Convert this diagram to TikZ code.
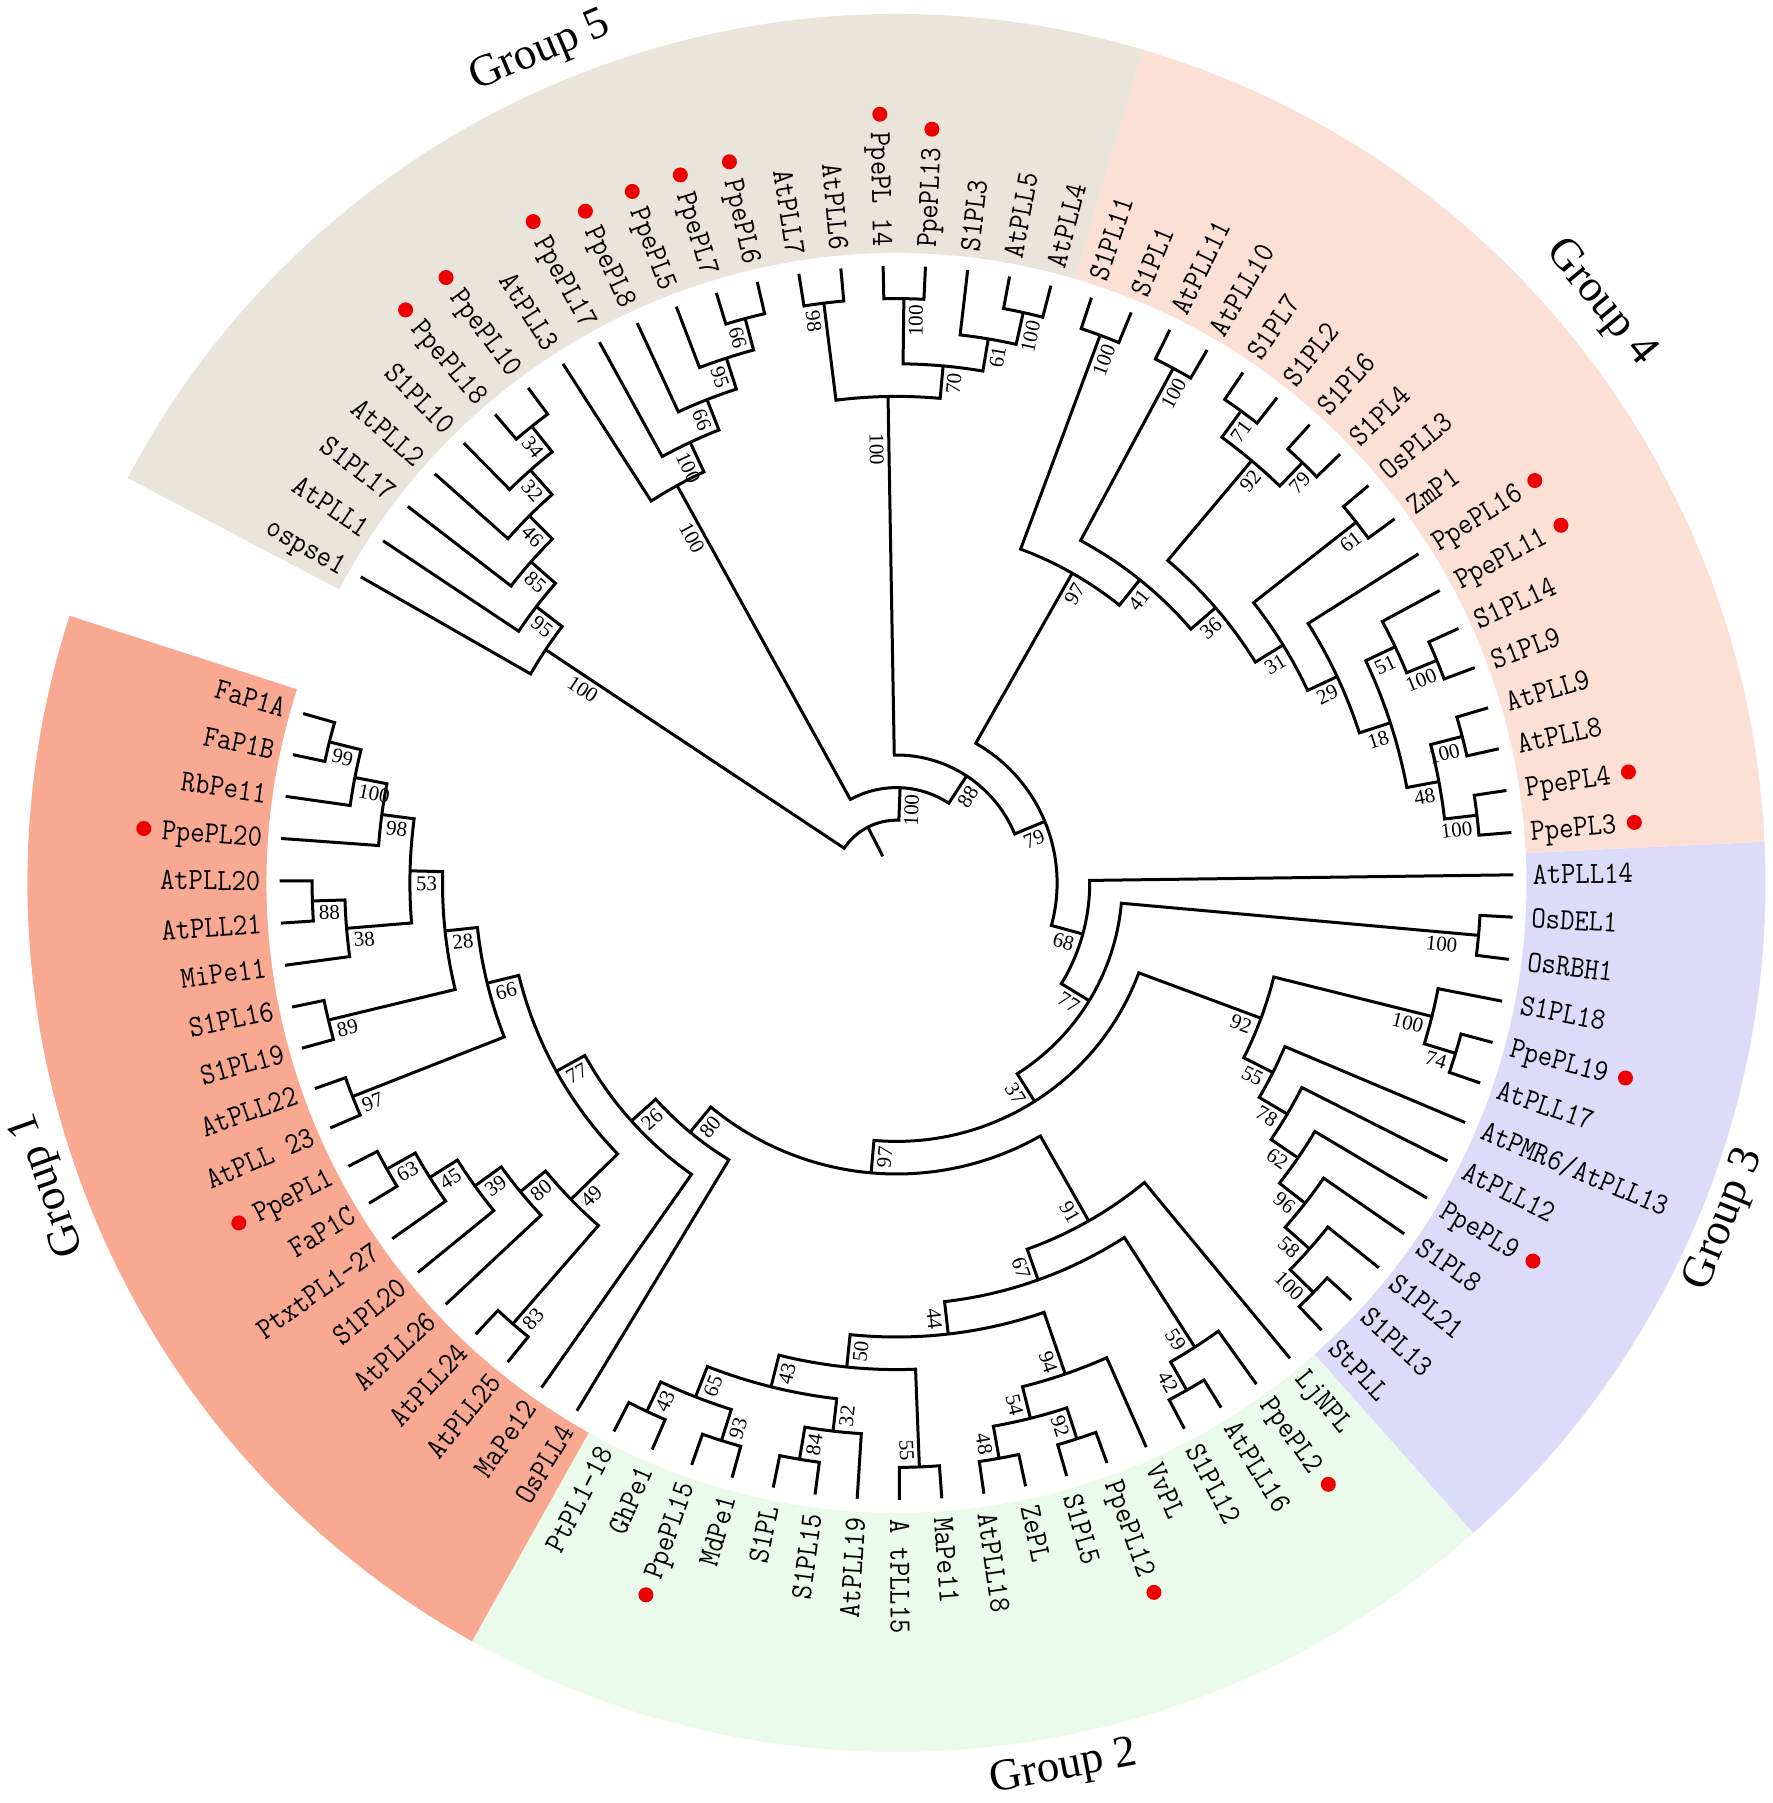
\documentclass[tikz,border=0pt]{standalone}
\usepackage{fontspec}
\setmainfont{Liberation Serif}
\usepackage{graphicx}
\usetikzlibrary{calc}

\definecolor{gA}{HTML}{F9A891}
\definecolor{gB}{HTML}{EBFBEB}
\definecolor{gC}{HTML}{DCDCFA}
\definecolor{gD}{HTML}{FCE0D6}
\definecolor{gE}{HTML}{EAE5DB}
\definecolor{dotred}{HTML}{EE0000}

\newcommand\Rleaf{617}
\newcommand\Hstep{32.6}
\newcommand\BaseA{164.06}
\newcommand\StepA{3.934}
\newcommand\Rlab{636}

\newcommand\TSet[3]{\expandafter\xdef\csname trX#1X#2\endcsname{#3}}
\newcommand\TGet[2]{\csname trX#1X#2\endcsname}

% leaf: id, index, text
\newcommand\LeafN[3]{%
  \pgfmathsetmacro\myA{\BaseA+\StepA*#2}%
  \TSet{#1}{a}{\myA}\TSet{#1}{h}{0}%
  \coordinate (#1) at (\myA:\Rleaf);%
  \pgfmathsetmacro\myC{cos(\myA)}%
  \ifdim\myC pt>0pt
    \node[leaflab,anchor=west,rotate=\myA] (#1L) at (\myA:\Rlab) {\scalebox{0.9}[1]{#3}};%
  \else
    \pgfmathsetmacro\myB{\myA+180}%
    \node[leaflab,anchor=east,rotate=\myB] (#1L) at (\myA:\Rlab) {\scalebox{0.9}[1]{#3}};%
  \fi}
% peach leaf with red dot
\newcommand\PpeN[3]{%
  \LeafN{#1}{#2}{#3}%
  \ifdim\myC pt>0pt
    \fill[dotred] (#1L.east) ++(\myA:18) circle[radius=7.5pt];%
  \else
    \fill[dotred] (#1L.west) ++(\myA:18) circle[radius=7.5pt];%
  \fi}
% join: id, child1, child2, bootstrap, extra label offset
\newcommand\JoinN[5]{%
  \pgfmathsetmacro\myA{(\TGet{#2}{a}+\TGet{#3}{a})/2}%
  \pgfmathsetmacro\myH{max(\TGet{#2}{h},\TGet{#3}{h})+1}%
  \pgfmathsetmacro\myR{\Rleaf-\Hstep*\myH}%
  \TSet{#1}{a}{\myA}\TSet{#1}{h}{\myH}%
  \coordinate (#1) at (\myA:\myR);%
  \pgfmathsetmacro\myP{\TGet{#2}{a}}\pgfmathsetmacro\myQ{\TGet{#3}{a}}%
  \draw[br] (#2) -- (\myP:\myR) arc[start angle=\myP, end angle=\myQ, radius=\myR pt] -- (#3);%
  \if\relax\detokenize{#4}\relax\else
    \pgfmathsetmacro\myC{cos(\myA)}%
    \pgfmathsetmacro\myL{\myR-5-#5}%
    \ifdim\myC pt>0pt
      \node[boot,anchor=north east,rotate=\myA] (#1B) at (\myA:\myL) {#4};%
    \else
      \pgfmathsetmacro\myB{\myA+180}%
      \node[boot,anchor=north west,rotate=\myB] (#1B) at (\myA:\myL) {#4};%
    \fi
  \fi}
% coloured sector: colour, first leaf, last leaf
\newcommand\SectN[3]{%
  \pgfmathsetmacro\myP{\BaseA+\StepA*(#2-0.5)}%
  \pgfmathsetmacro\myQ{\BaseA+\StepA*(#3+0.5)}%
  \fill[#1] (\myP:630) arc[start angle=\myP, end angle=\myQ, radius=630pt] -- (\myQ:869) arc[start angle=\myQ, end angle=\myP, radius=869pt] -- cycle;}

\begin{document}
\begin{tikzpicture}[x=1pt,y=1pt,
  br/.style={line width=3pt,line join=miter},
  leaflab/.style={font=\ttfamily\fontsize{30.9}{31}\selectfont,inner sep=0pt,text height=18.9pt,text depth=0pt},
  boot/.style={font=\fontsize{21}{21}\selectfont,inner xsep=1pt,inner ysep=5pt},
  grp/.style={font=\fontsize{45}{45}\selectfont,inner sep=0pt}]
\useasboundingbox (-896.5,-920) rectangle (875.5,883);
\fill[white] (-896.5,-920) rectangle (875.5,883);

% group sectors
\SectN{gA}{0}{19}
\SectN{gB}{20}{37}
\SectN{gC}{38}{50}
\SectN{gD}{51}{68}
\SectN{gE}{69}{88}

% group titles
\node[grp,rotate=109.6] (g1) at (199.6:900) {Group 1};
\node[grp,rotate=10.7] (g2) at (280.7:901) {Group 2};
\node[grp,rotate=67.9] (g3) at (337.9:894) {Group 3};
\node[grp,rotate=-50.5] (g4) at (39.5:912) {Group 4};
\node[grp,rotate=23.2] (g5) at (113.2:904) {Group 5};

% leaves
\LeafN{l0}{0}{FaP1A}
\LeafN{l1}{1}{FaP1B}
\LeafN{l2}{2}{RbPe11}
\PpeN{l3}{3}{PpePL20}
\LeafN{l4}{4}{AtPLL20}
\LeafN{l5}{5}{AtPLL21}
\LeafN{l6}{6}{MiPe11}
\LeafN{l7}{7}{S1PL16}
\LeafN{l8}{8}{S1PL19}
\LeafN{l9}{9}{AtPLL22}
\LeafN{l10}{10}{AtPLL 23}
\PpeN{l11}{11}{PpePL1}
\LeafN{l12}{12}{FaP1C}
\LeafN{l13}{13}{PtxtPL1-27}
\LeafN{l14}{14}{S1PL20}
\LeafN{l15}{15}{AtPLL26}
\LeafN{l16}{16}{AtPLL24}
\LeafN{l17}{17}{AtPLL25}
\LeafN{l18}{18}{MaPe12}
\LeafN{l19}{19}{OsPLL4}
\LeafN{l20}{20}{PtPL1-18}
\LeafN{l21}{21}{GhPe1}
\PpeN{l22}{22}{PpePL15}
\LeafN{l23}{23}{MdPe1}
\LeafN{l24}{24}{S1PL}
\LeafN{l25}{25}{S1PL15}
\LeafN{l26}{26}{AtPLL19}
\LeafN{l27}{27}{A tPLL15}
\LeafN{l28}{28}{MaPe11}
\LeafN{l29}{29}{AtPLL18}
\LeafN{l30}{30}{ZePL}
\LeafN{l31}{31}{S1PL5}
\PpeN{l32}{32}{PpePL12}
\LeafN{l33}{33}{VvPL}
\LeafN{l34}{34}{S1PL12}
\LeafN{l35}{35}{AtPLL16}
\PpeN{l36}{36}{PpePL2}
\LeafN{l37}{37}{LjNPL}
\LeafN{l38}{38}{StPLL}
\LeafN{l39}{39}{S1PL13}
\LeafN{l40}{40}{S1PL21}
\LeafN{l41}{41}{S1PL8}
\PpeN{l42}{42}{PpePL9}
\LeafN{l43}{43}{AtPLL12}
\LeafN{l44}{44}{AtPMR6/AtPLL13}
\LeafN{l45}{45}{AtPLL17}
\PpeN{l46}{46}{PpePL19}
\LeafN{l47}{47}{S1PL18}
\LeafN{l48}{48}{OsRBH1}
\LeafN{l49}{49}{OsDEL1}
\LeafN{l50}{50}{AtPLL14}
\PpeN{l51}{51}{PpePL3}
\PpeN{l52}{52}{PpePL4}
\LeafN{l53}{53}{AtPLL8}
\LeafN{l54}{54}{AtPLL9}
\LeafN{l55}{55}{S1PL9}
\LeafN{l56}{56}{S1PL14}
\PpeN{l57}{57}{PpePL11}
\PpeN{l58}{58}{PpePL16}
\LeafN{l59}{59}{ZmP1}
\LeafN{l60}{60}{OsPLL3}
\LeafN{l61}{61}{S1PL4}
\LeafN{l62}{62}{S1PL6}
\LeafN{l63}{63}{S1PL2}
\LeafN{l64}{64}{S1PL7}
\LeafN{l65}{65}{AtPLL10}
\LeafN{l66}{66}{AtPLL11}
\LeafN{l67}{67}{S1PL1}
\LeafN{l68}{68}{S1PL11}
\LeafN{l69}{69}{AtPLL4}
\LeafN{l70}{70}{AtPLL5}
\LeafN{l71}{71}{S1PL3}
\PpeN{l72}{72}{PpePL13}
\PpeN{l73}{73}{PpePL 14}
\LeafN{l74}{74}{AtPLL6}
\LeafN{l75}{75}{AtPLL7}
\PpeN{l76}{76}{PpePL6}
\PpeN{l77}{77}{PpePL7}
\PpeN{l78}{78}{PpePL5}
\PpeN{l79}{79}{PpePL8}
\PpeN{l80}{80}{PpePL17}
\LeafN{l81}{81}{AtPLL3}
\PpeN{l82}{82}{PpePL10}
\PpeN{l83}{83}{PpePL18}
\LeafN{l84}{84}{S1PL10}
\LeafN{l85}{85}{AtPLL2}
\LeafN{l86}{86}{S1PL17}
\LeafN{l87}{87}{AtPLL1}
\LeafN{l88}{88}{ospse1}

% Group 1
\JoinN{a1}{l0}{l1}{99}{0}
\JoinN{a2}{a1}{l2}{100}{0}
\JoinN{a3}{a2}{l3}{98}{0}
\JoinN{a4}{l4}{l5}{88}{0}
\JoinN{a5}{a4}{l6}{38}{0}
\JoinN{a6}{a3}{a5}{53}{0}
\JoinN{a7}{l7}{l8}{89}{0}
\JoinN{a8}{a6}{a7}{28}{0}
\JoinN{a9}{l9}{l10}{97}{0}
\JoinN{a10}{a8}{a9}{66}{0}
\JoinN{a11}{l11}{l12}{63}{0}
\JoinN{a12}{a11}{l13}{45}{0}
\JoinN{a13}{a12}{l14}{39}{0}
\JoinN{a14}{a13}{l15}{80}{0}
\JoinN{a15}{l16}{l17}{83}{0}
\JoinN{a16}{a14}{a15}{49}{0}
\JoinN{a17}{a10}{a16}{77}{0}
\JoinN{a18}{a17}{l18}{26}{0}
\JoinN{a19}{a18}{l19}{80}{0}
% Group 2
\JoinN{b1}{l20}{l21}{43}{0}
\JoinN{b2}{l22}{l23}{93}{0}
\JoinN{b3}{b1}{b2}{65}{0}
\JoinN{b4}{l24}{l25}{84}{0}
\JoinN{b5}{b4}{l26}{32}{0}
\JoinN{b6}{b3}{b5}{43}{0}
\JoinN{b7}{l27}{l28}{55}{0}
\JoinN{b8}{b6}{b7}{50}{0}
\JoinN{b9}{l29}{l30}{48}{0}
\JoinN{b10}{l31}{l32}{92}{0}
\JoinN{b11}{b9}{b10}{54}{0}
\JoinN{b12}{b11}{l33}{94}{0}
\JoinN{b13}{b8}{b12}{44}{0}
\JoinN{b14}{l34}{l35}{42}{0}
\JoinN{b15}{b14}{l36}{59}{0}
\JoinN{b16}{b13}{b15}{67}{0}
\JoinN{b17}{b16}{l37}{91}{0}
% Group 3
\JoinN{c1}{l38}{l39}{100}{0}
\JoinN{c2}{c1}{l40}{58}{0}
\JoinN{c3}{c2}{l41}{96}{0}
\JoinN{c4}{c3}{l42}{62}{0}
\JoinN{c5}{c4}{l43}{78}{0}
\JoinN{c6}{c5}{l44}{55}{0}
\JoinN{c7}{l45}{l46}{74}{0}
\JoinN{c8}{c7}{l47}{100}{0}
\JoinN{c9}{c6}{c8}{92}{0}
\JoinN{c10}{l48}{l49}{100}{14}
% Group 4
\JoinN{d1}{l51}{l52}{100}{0}
\JoinN{d2}{l53}{l54}{100}{0}
\JoinN{d3}{d1}{d2}{48}{0}
\JoinN{d4}{l55}{l56}{100}{0}
\JoinN{d5}{d4}{l57}{51}{0}
\JoinN{d6}{d3}{d5}{18}{0}
\JoinN{d7}{d6}{l58}{29}{0}
\JoinN{d8}{l59}{l60}{61}{0}
\JoinN{d9}{d7}{d8}{31}{0}
\JoinN{d10}{l61}{l62}{79}{0}
\JoinN{d11}{l63}{l64}{71}{0}
\JoinN{d12}{d10}{d11}{92}{0}
\JoinN{d13}{d9}{d12}{36}{0}
\JoinN{d14}{l65}{l66}{100}{0}
\JoinN{d15}{d13}{d14}{41}{0}
\JoinN{d16}{l67}{l68}{100}{0}
\JoinN{d17}{d15}{d16}{97}{0}
% Group 5
\JoinN{e1}{l69}{l70}{100}{0}
\JoinN{e2}{e1}{l71}{61}{0}
\JoinN{e3}{l72}{l73}{100}{0}
\JoinN{e4}{e2}{e3}{70}{0}
\JoinN{e5}{l74}{l75}{98}{0}
\JoinN{e6}{e4}{e5}{100}{31}
\JoinN{e7}{l76}{l77}{66}{0}
\JoinN{e8}{e7}{l78}{95}{0}
\JoinN{e9}{e8}{l79}{66}{0}
\JoinN{e10}{e9}{l80}{100}{0}
\JoinN{e11}{e10}{l81}{100}{31}
\JoinN{e12}{l82}{l83}{34}{0}
\JoinN{e13}{e12}{l84}{32}{0}
\JoinN{e14}{e13}{l85}{46}{0}
\JoinN{e15}{e14}{l86}{85}{0}
\JoinN{e16}{e15}{l87}{95}{0}
\JoinN{e17}{e16}{l88}{100}{31}
% backbone
\JoinN{f1}{b17}{a19}{97}{0}
\JoinN{f2}{c9}{f1}{37}{0}
\JoinN{f3}{c10}{f2}{77}{0}
\JoinN{f4}{f3}{l50}{68}{0}
\JoinN{f5}{f4}{d17}{79}{0}
\JoinN{f6}{f5}{e6}{88}{0}
\JoinN{f7}{f6}{e11}{100}{0}
\JoinN{root}{f7}{e17}{}{0}
\pgfmathsetmacro\myA{\TGet{root}{a}}
\coordinate (rootend) at (\myA:30);
\draw[br] (root) -- (rootend);
\end{tikzpicture}
\end{document}
